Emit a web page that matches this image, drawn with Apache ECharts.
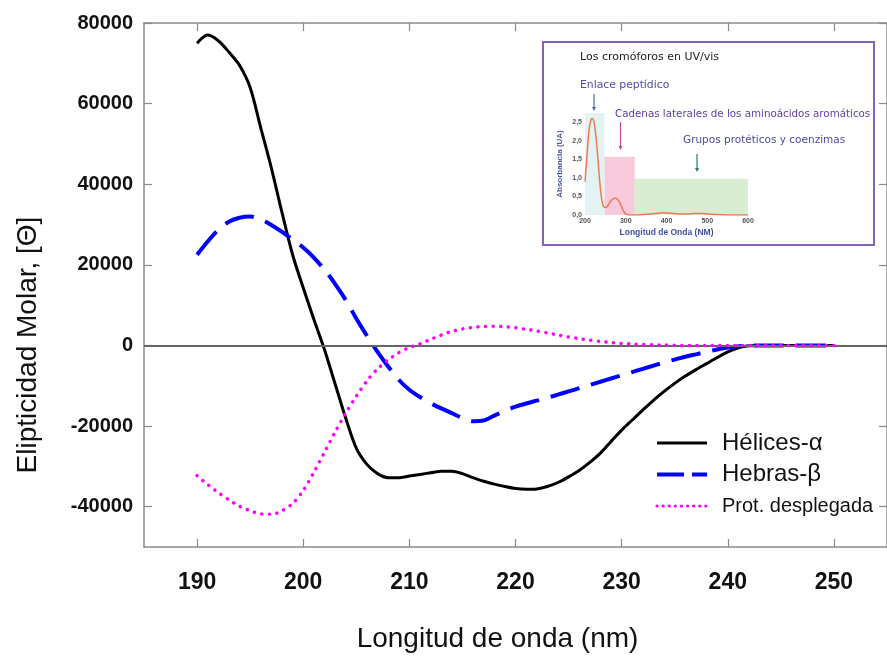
<!DOCTYPE html>
<html>
<head>
<meta charset="utf-8">
<script src="https://cdn.jsdelivr.net/npm/echarts@6.0.0/dist/echarts.min.js"></script>
<style>
html,body{margin:0;padding:0;background:#fff;}
#chart{width:887px;height:660px;}
</style>
</head>
<body>
<div id="chart"></div>
<script>
// ---------- main chart data ----------
const wavelengths = [190,191,192,193,194,195,196,197,198,199,200,201,202,203,204,205,206,207,208,209,210,211,212,213,214,215,216,217,218,219,220,221,222,223,224,225,226,227,228,229,230,231,232,233,234,235,236,237,238,239,240,241,242,243,244,245,246,247,248,249,250];
const helixValues = [75000,77000,75600,72800,69500,64000,54000,44000,33000,22500,14300,6500,-1000,-9500,-18000,-25500,-29500,-31800,-32800,-32800,-32400,-32000,-31600,-31200,-31200,-31800,-32800,-33700,-34400,-35000,-35500,-35700,-35600,-35000,-34000,-32600,-31000,-29000,-26700,-23800,-21000,-18500,-16000,-13600,-11400,-9400,-7600,-6000,-4500,-3000,-1600,-600,-100,0,0,0,0,0,0,0,0];
const sheetValues = [22500,25800,28700,30700,31700,32000,31300,29900,28200,26300,24300,21800,18800,15300,11300,6700,2400,-1600,-5200,-8500,-11000,-12800,-14300,-15600,-16800,-18000,-18800,-18600,-17400,-16200,-15200,-14400,-13700,-13000,-12200,-11400,-10600,-9800,-9000,-8200,-7400,-6600,-5800,-5000,-4200,-3500,-2800,-2200,-1600,-1000,-500,-200,0,0,0,0,0,0,0,0,0];
const unfoldedValues = [-32300,-34500,-36500,-38300,-39900,-41000,-41800,-41900,-41000,-39200,-36000,-31500,-26500,-21500,-16800,-12600,-8800,-5800,-3600,-1800,-500,400,1500,2600,3500,4100,4500,4700,4750,4650,4400,4000,3600,3100,2600,2100,1700,1300,1000,700,500,350,250,150,100,50,0,0,0,0,0,0,0,0,0,0,0,0,0,0,0];
const seriesNames = ['Hélices-α', 'Hebras-β', 'Prot. desplegada'];
const xTickValues = [190,200,210,220,230,240,250];
const yTickValues = [-40000,-20000,0,20000,40000,60000,80000];
const xRange = [185, 255];
const yRange = [-50000, 80000];

// ---------- inset data ----------
const insetWavelength = [200,205,210,215,218,221,225,230,235,240,245,250,255,260,265,270,275,280,285,290,295,300,310,330,350,370,390,410,430,450,470,490,510,530,560,600];
const insetAbsorbance = [0.9,1.6,2.3,2.58,2.6,2.55,2.3,1.75,1.05,0.5,0.24,0.2,0.24,0.32,0.4,0.44,0.45,0.42,0.34,0.22,0.1,0.03,0,0,0.02,0.04,0.06,0.05,0.03,0.03,0.04,0.04,0.02,0.01,0,0];
const insetXTicks = [200,300,400,500,600];
const insetYTicks = [0,0.5,1,1.5,2,2.5];
const bandStart = [200, 248, 322];
const bandEnd = [248, 322, 600];
const bandTop = [2.75, 1.57, 0.98];
const insetTitle = 'Los cromóforos en UV/vis';
const insetLabels = ['Enlace peptídico', 'Cadenas laterales de los aminoácidos aromáticos', 'Grupos protéticos y coenzimas'];

const pairs = (xs, ys) => xs.map((x, i) => [x, ys[i]]);
const FONT = "'Liberation Sans', Arial, sans-serif";
const INSET_FONT = "'DejaVu Sans', sans-serif";
const frameColor = '#8a8a8a';
const bandColors = ['#e3f2f2', '#f9c9dc', '#d9edd3'];

const chart = echarts.init(document.getElementById('chart'), null, {renderer: 'canvas'});

function arrow(x, y1, y2, color) {
  return [
    {type: 'line', shape: {x1: x, y1: y1, x2: x, y2: y2 - 3}, style: {stroke: color, lineWidth: 1.2}, z: 10},
    {type: 'polygon', shape: {points: [[x - 2, y2 - 4], [x + 2, y2 - 4], [x, y2]]}, style: {fill: color}, z: 10}
  ];
}

const option = {
  backgroundColor: '#ffffff',
  animation: false,
  grid: [
    {left: 144, top: 23, width: 747.5, height: 524, containLabel: false},
    {left: 585, top: 113, width: 163, height: 102, containLabel: false}
  ],
  legend: {
    orient: 'vertical',
    left: 650,
    top: 424,
    itemWidth: 50,
    itemHeight: 14,
    itemGap: 3.5,
    itemStyle: {opacity: 0},
    textStyle: {color: '#111', fontFamily: FONT, padding: [0, 0, 0, 10], lineHeight: 28},
    data: [
      {name: seriesNames[0], textStyle: {fontSize: 24}, lineStyle: {width: 3}},
      {name: seriesNames[1], textStyle: {fontSize: 24}, lineStyle: {width: 4, type: [27, 8]}},
      {name: seriesNames[2], textStyle: {fontSize: 20}, lineStyle: {width: 3.2, type: [0.1, 6], cap: 'round'}}
    ]
  },
  xAxis: [
    {
      gridIndex: 0, type: 'value', min: xRange[0], max: xRange[1], position: 'bottom',
      axisLine: {show: true, onZero: false, lineStyle: {color: frameColor, width: 1.5}},
      axisTick: {show: true, inside: true, length: 8, customValues: xTickValues, lineStyle: {color: frameColor, width: 1.2}},
      axisLabel: {customValues: xTickValues, margin: 24, fontSize: 23, fontWeight: 'bold', color: '#111', fontFamily: FONT,
        formatter: v => String(v)},
      splitLine: {show: false},
      name: 'Longitud de onda (nm)', nameLocation: 'middle', nameGap: 78,
      nameTextStyle: {fontSize: 28, color: '#111', fontFamily: FONT, padding: [0, 36, 0, 0]}
    },
    {
      gridIndex: 0, type: 'value', min: xRange[0], max: xRange[1], position: 'top',
      axisLine: {show: true, onZero: false, lineStyle: {color: frameColor, width: 1.5}},
      axisTick: {show: true, inside: true, length: 8, customValues: xTickValues, lineStyle: {color: frameColor, width: 1.2}},
      axisLabel: {show: false},
      splitLine: {show: false}
    },
    {
      gridIndex: 1, type: 'value', min: 200, max: 600,
      axisLine: {show: false}, axisTick: {show: false},
      axisLabel: {customValues: insetXTicks, margin: 3, fontSize: 7, fontWeight: 'bold', color: '#555', fontFamily: FONT,
        formatter: v => String(v)},
      splitLine: {show: false},
      name: 'Longitud de Onda (NM)', nameLocation: 'middle', nameGap: 13,
      nameTextStyle: {fontSize: 8.5, fontWeight: 'bold', color: '#3f50a8', fontFamily: FONT}
    }
  ],
  yAxis: [
    {
      gridIndex: 0, type: 'value', min: yRange[0], max: yRange[1], position: 'left',
      axisLine: {show: true, onZero: false, lineStyle: {color: frameColor, width: 1.5}},
      axisTick: {show: true, inside: true, length: 8, customValues: yTickValues, lineStyle: {color: frameColor, width: 1.2}},
      axisLabel: {customValues: yTickValues, margin: 11, fontSize: 20, fontWeight: 'bold', color: '#111', fontFamily: FONT,
        formatter: v => String(v)},
      splitLine: {show: false},
      name: 'Elipticidad Molar, [Θ]', nameLocation: 'middle', nameGap: 102,
      nameTextStyle: {fontSize: 28, color: '#111', fontFamily: FONT, padding: [0, 120, 0, 0]}
    },
    {
      gridIndex: 0, type: 'value', min: yRange[0], max: yRange[1], position: 'right',
      axisLine: {show: true, onZero: false, lineStyle: {color: frameColor, width: 1.5}},
      axisTick: {show: true, inside: true, length: 8, customValues: yTickValues, lineStyle: {color: frameColor, width: 1.2}},
      axisLabel: {show: false},
      splitLine: {show: false}
    },
    {
      gridIndex: 1, type: 'value', min: 0, max: 2.75,
      axisLine: {show: false}, axisTick: {show: false},
      axisLabel: {customValues: insetYTicks, margin: 3, fontSize: 7, fontWeight: 'bold', color: '#555', fontFamily: FONT,
        formatter: v => v.toFixed(1).replace('.', ',')},
      splitLine: {show: false},
      name: 'Absorbancia (UA)', nameLocation: 'middle', nameGap: 21,
      nameTextStyle: {fontSize: 8, fontWeight: 'bold', color: '#4656a8', fontFamily: FONT}
    }
  ],
  graphic: [
    {type: 'rect', shape: {x: 543, y: 42, width: 331, height: 203}, style: {fill: '#ffffff', stroke: '#8462b8', lineWidth: 2}, z: 0},
    {type: 'text', x: 580, y: 57, style: {text: insetTitle, font: '11px ' + INSET_FONT, fill: '#222', textVerticalAlign: 'middle'}, z: 10},
    {type: 'text', x: 580, y: 85, style: {text: insetLabels[0], font: '10.8px ' + INSET_FONT, fill: '#4e4eaa', textVerticalAlign: 'middle'}, z: 10},
    {type: 'text', x: 615, y: 114, style: {text: insetLabels[1], font: '10.3px ' + INSET_FONT, fill: '#5c3ea6', textVerticalAlign: 'middle'}, z: 10},
    {type: 'text', x: 683, y: 140, style: {text: insetLabels[2], font: '10.5px ' + INSET_FONT, fill: '#4a4aa2', textVerticalAlign: 'middle'}, z: 10}
  ].concat(arrow(594, 94, 111, '#5566b0'), arrow(620.5, 122, 150, '#c0508c'), arrow(697, 154, 172, '#1f8070')),
  series: [
    {
      name: seriesNames[0], type: 'line', xAxisIndex: 0, yAxisIndex: 0,
      data: pairs(wavelengths, helixValues), symbol: 'none', smooth: 0.3, z: 3,
      lineStyle: {color: '#000000', width: 3}, itemStyle: {color: '#000000'},
      markLine: {
        silent: true, symbol: ['none', 'none'], label: {show: false},
        lineStyle: {color: '#666666', width: 2, type: 'solid'},
        data: [{yAxis: 0}]
      }
    },
    {
      name: seriesNames[1], type: 'line', xAxisIndex: 0, yAxisIndex: 0,
      data: pairs(wavelengths, sheetValues), symbol: 'none', smooth: 0.3, z: 4,
      lineStyle: {color: '#0000ff', width: 4, type: [30, 12]}, itemStyle: {color: '#0000ff'}
    },
    {
      name: seriesNames[2], type: 'line', xAxisIndex: 0, yAxisIndex: 0,
      data: pairs(wavelengths, unfoldedValues), symbol: 'none', smooth: 0.3, z: 5,
      lineStyle: {color: '#ff00ff', width: 3.5, type: [0.1, 7.5], cap: 'round'}, itemStyle: {color: '#ff00ff'}
    },
    {
      name: 'inset', type: 'line', xAxisIndex: 2, yAxisIndex: 2,
      data: pairs(insetWavelength, insetAbsorbance), symbol: 'none', smooth: 0.4, z: 6,
      lineStyle: {color: '#ee7a52', width: 1.5}, itemStyle: {color: '#ee7a52'},
      markArea: {
        silent: true,
        data: bandStart.map((s, i) => [
          {xAxis: s, yAxis: 0, itemStyle: {color: bandColors[i]}},
          {xAxis: bandEnd[i], yAxis: bandTop[i]}
        ])
      }
    }
  ]
};
chart.setOption(option);
</script>
</body>
</html>
